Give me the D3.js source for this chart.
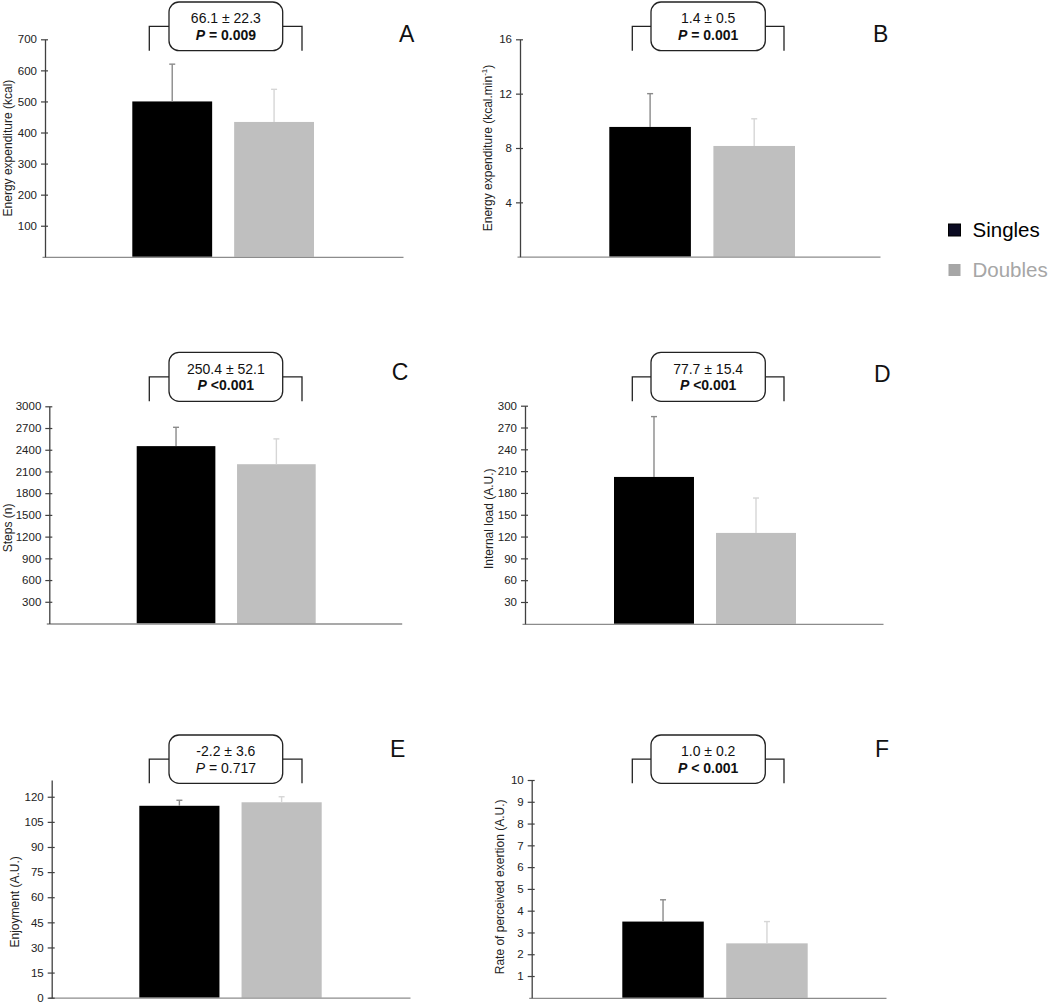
<!DOCTYPE html>
<html>
<head>
<meta charset="utf-8">
<script src="https://cdn.jsdelivr.net/npm/d3@7"></script>
<style>
  html, body { margin: 0; padding: 0; background: #fff; }
  svg { display: block; font-family: "Liberation Sans", Arial, Helvetica, sans-serif; }
</style>
</head>
<body>
<svg id="chart" width="1052" height="1003"></svg>
<script>
// ---------------- DATA ----------------
const panelLetters = ["A", "B", "C", "D", "E", "F"];
const groups = ["Singles", "Doubles"];
const yLabels = [
  "Energy expenditure (kcal)",
  "Energy expenditure (kcal.min-1)",
  "Steps (n)",
  "Internal load (A.U.)",
  "Enjoyment (A.U.)",
  "Rate of perceived exertion  (A.U.)"
];
const singlesMean = [500, 9.55, 2450, 202, 114.6, 3.5];
const singlesSD   = [120, 2.45, 260, 83, 3.3, 1.0];
const doublesMean = [434, 8.15, 2200, 125, 116.7, 2.5];
const doublesSD   = [105, 2.0, 350, 48, 3.3, 1.0];
const yMaxima = [700, 16, 3000, 300, 130, 10];
const yTicks = [
  [100, 200, 300, 400, 500, 600, 700],
  [4, 8, 12, 16],
  [300, 600, 900, 1200, 1500, 1800, 2100, 2400, 2700, 3000],
  [30, 60, 90, 120, 150, 180, 210, 240, 270, 300],
  [0, 15, 30, 45, 60, 75, 90, 105, 120],
  [1, 2, 3, 4, 5, 6, 7, 8, 9, 10]
];
const diffLabels = ["66.1 ± 22.3", "1.4 ± 0.5", "250.4 ± 52.1", "77.7 ± 15.4", "-2.2 ± 3.6", "1.0 ± 0.2"];
const pLabels = [" = 0.009", " = 0.001", " <0.001", " <0.001", " = 0.717", " < 0.001"];
const pBold = [true, true, true, true, false, true];

// ---------------- LAYOUT ----------------
const layout = [
  {axisX: 45,    xEnd: 403, yTop: 39.3,  yBot: 256.8, barL: 132.3, barR: 314,   brL: 149.3, brR: 302, boxL: 169, boxR: 282.7, boxT: 2,     boxB: 50.7,  lx: 399, ly: 41.7,  labX: 7.5,   labDy: 0},
  {axisX: 520,   xEnd: 880, yTop: 39.3,  yBot: 256.7, barL: 609.3, barR: 795,   brL: 632.3, brR: 784, boxL: 651, boxR: 765.3, boxT: 2,     boxB: 50.7,  lx: 873, ly: 41.7,  labX: 488,   labDy: 0},
  {axisX: 49.3,  xEnd: 401.7, yTop: 406.3, yBot: 623.5, barL: 136.7, barR: 315.7, brL: 149.3, brR: 302, boxL: 169, boxR: 282.7, boxT: 352.3, boxB: 401.3, lx: 391.7, ly: 380, labX: 7.5, labDy: 13},
  {axisX: 525,   xEnd: 883, yTop: 405.7, yBot: 623.8, barL: 614,   barR: 796,   brL: 632.3, brR: 784, boxL: 651, boxR: 765.3, boxT: 352.3, boxB: 401.3, lx: 874, ly: 381.7, labX: 488.5, labDy: 4},
  {axisX: 51.7,  xEnd: 410, yTop: 780,   yBot: 997.7, barL: 139.3, barR: 321.7, brL: 149.3, brR: 302, boxL: 169, boxR: 282.7, boxT: 735,   boxB: 783.3, lx: 390, ly: 756.7, labX: 15,    labDy: 13},
  {axisX: 531.7, xEnd: 886, yTop: 780,   yBot: 997.8, barL: 622.3, barR: 807.7, brL: 632.3, brR: 784, boxL: 651, boxR: 765.3, boxT: 735,   boxB: 783.3, lx: 875, ly: 756.7, labX: 500,   labDy: -2}
];
const barColors = {Singles: "#000000", Doubles: "#bfbfbf"};
const errColors = {Singles: "#8a8a8a", Doubles: "#d6d6d6"};

const svg = d3.select("#chart");

panelLetters.forEach((letter, i) => {
  const L = layout[i];
  const g = svg.append("g");
  const y = d3.scaleLinear().domain([0, yMaxima[i]]).range([L.yBot, L.yTop]);
  const x = d3.scaleBand().domain(groups).range([L.barL, L.barR]).paddingInner(0.216).paddingOuter(0);
  const vals = [
    {group: "Singles", mean: singlesMean[i], sd: singlesSD[i]},
    {group: "Doubles", mean: doublesMean[i], sd: doublesSD[i]}
  ];

  // bars
  g.selectAll("rect.bar").data(vals).enter().append("rect")
    .attr("x", d => x(d.group))
    .attr("width", x.bandwidth())
    .attr("y", d => y(d.mean))
    .attr("height", d => y(0) - y(d.mean))
    .attr("fill", d => barColors[d.group]);

  // error bars (upper only)
  const eb = g.selectAll("g.err").data(vals).enter().append("g");
  eb.append("line")
    .attr("x1", d => x(d.group) + x.bandwidth() / 2)
    .attr("x2", d => x(d.group) + x.bandwidth() / 2)
    .attr("y1", d => y(d.mean))
    .attr("y2", d => y(d.mean + d.sd))
    .attr("stroke", d => errColors[d.group]).attr("stroke-width", 1.4);
  eb.append("line")
    .attr("x1", d => x(d.group) + x.bandwidth() / 2 - 3)
    .attr("x2", d => x(d.group) + x.bandwidth() / 2 + 3)
    .attr("y1", d => y(d.mean + d.sd))
    .attr("y2", d => y(d.mean + d.sd))
    .attr("stroke", d => errColors[d.group]).attr("stroke-width", 1.4);

  // x axis baseline
  const xOuter = d3.scaleLinear().domain([0, 1]).range([L.axisX - 3, L.xEnd]);
  const xAx = g.append("g").attr("transform", `translate(0,${y(0)})`)
    .call(d3.axisBottom(xOuter).tickValues([]).tickSizeOuter(0));
  xAx.select(".domain").attr("stroke", "#8c8c8c").attr("stroke-width", 1.3);

  // y axis
  const yAx = g.append("g").attr("transform", `translate(${L.axisX},0)`)
    .call(d3.axisLeft(y).tickValues(yTicks[i]).tickSize(4).tickSizeOuter(0).tickPadding(4)
      .tickFormat(d3.format("d")));
  yAx.select(".domain").attr("stroke", "#404040").attr("stroke-width", 1.3);
  yAx.selectAll(".tick line").attr("x1", 3).attr("x2", -4).attr("stroke", "#404040").attr("stroke-width", 1.2);
  yAx.selectAll(".tick text").attr("font-size", 11.5).attr("fill", "#222")
    .attr("font-family", "'Liberation Sans', Arial, sans-serif");

  // y label
  const cy = (L.yTop + L.yBot) / 2 + L.labDy;
  const lab = g.append("text")
    .attr("transform", `translate(${L.labX + 4},${cy}) rotate(-90)`)
    .attr("text-anchor", "middle")
    .attr("font-size", 12).attr("fill", "#222");
  if (yLabels[i].endsWith("min-1)")) {
    lab.append("tspan").text("Energy expenditure (kcal.min");
    lab.append("tspan").attr("font-size", 8).attr("dy", -5).text("-1");
    lab.append("tspan").attr("dy", 5).text(")");
  } else {
    lab.text(yLabels[i]);
  }

  // bracket
  const brY = (L.boxT + L.boxB) / 2;
  const brBottom = L.boxB;
  g.append("path")
    .attr("d", `M${L.brL},${brBottom}V${brY}H${L.boxL}M${L.boxR},${brY}H${L.brR}V${brBottom}`)
    .attr("fill", "none").attr("stroke", "#222").attr("stroke-width", 1.3);
  g.append("rect")
    .attr("x", L.boxL).attr("y", L.boxT)
    .attr("width", L.boxR - L.boxL).attr("height", L.boxB - L.boxT)
    .attr("rx", 10).attr("ry", 10)
    .attr("fill", "#fff").attr("stroke", "#222").attr("stroke-width", 1.3);
  const cx = (L.boxL + L.boxR) / 2;
  g.append("text").attr("x", cx).attr("y", L.boxT + 21.3)
    .attr("text-anchor", "middle").attr("font-size", 14).attr("fill", "#111")
    .text(diffLabels[i]);
  const pt = g.append("text").attr("x", cx).attr("y", L.boxT + 38)
    .attr("text-anchor", "middle").attr("font-size", 14).attr("fill", "#111")
    .attr("font-weight", pBold[i] ? "bold" : "normal");
  pt.append("tspan").attr("font-style", "italic").text("P");
  pt.append("tspan").text(pLabels[i]);

  // panel letter
  g.append("text").attr("x", L.lx).attr("y", L.ly)
    .attr("font-size", 23).attr("fill", "#111").text(letter);
});

// legend
const legendColors = {Singles: "#0b0b22", Doubles: "#a6a6a6"};
const legendText = {Singles: "#000000", Doubles: "#a6a6a6"};
const lg = svg.append("g");
const legY = d3.scaleBand().domain(groups).range([210, 290]).padding(0);
groups.forEach(gr => {
  const yy = legY(gr) + legY.bandwidth() / 2;
  lg.append("rect").attr("x", 948.5).attr("y", yy - 6).attr("width", 12).attr("height", 12)
    .attr("fill", legendColors[gr]).attr("stroke", gr === "Singles" ? "#000" : "none");
  lg.append("text").attr("x", 972.5).attr("y", yy + 7)
    .attr("font-size", 20.5).attr("fill", legendText[gr]).text(gr);
});
</script>
</body>
</html>
